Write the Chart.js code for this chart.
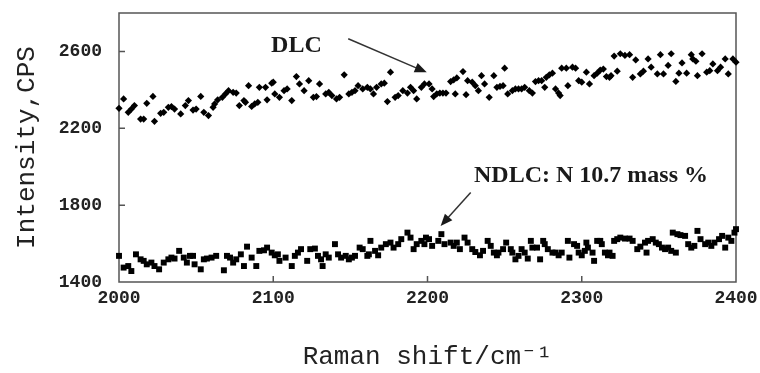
<!DOCTYPE html>
<html lang="en">

<head>
    <meta charset="UTF-8">
    <title>Raman spectra DLC / NDLC</title>
    <script src="https://cdn.jsdelivr.net/npm/chart.js"></script>
    <style>
        html, body { margin: 0; padding: 0; background: #fff; }
        .grafico { width: 760px; height: 373px; }
    </style>
</head>

<body>
    <div class="grafico">
        <canvas id="raman"></canvas>
    </div>
</body>

<script>

    // DLC (diamonds)
    var dlcX = [2000, 2003, 2006, 2008, 2010, 2014, 2016, 2018, 2022, 2023, 2027, 2029, 2032, 2034, 2036, 2040, 2043, 2045, 2048, 2050,
        2053, 2055, 2058, 2061, 2062, 2064, 2067, 2069, 2071, 2074, 2076, 2078, 2081, 2082, 2084, 2086, 2088, 2090, 2091, 2095, 2096, 2099,
        2100, 2101, 2104, 2107, 2109, 2112, 2115, 2117, 2120, 2123, 2126, 2128, 2130, 2134, 2136, 2138, 2141, 2143, 2146, 2149,
        2151, 2153, 2155, 2158, 2161, 2163, 2165, 2167, 2170, 2172, 2174, 2176, 2179, 2181, 2184, 2187, 2189, 2191, 2193, 2196, 2198,
        2201, 2203, 2204, 2206, 2208, 2210, 2212, 2215, 2217, 2218, 2219, 2223, 2225, 2226, 2229, 2231, 2233, 2235, 2237, 2240,
        2243, 2245, 2247, 2249, 2250, 2252, 2255, 2257, 2259, 2261, 2263, 2266, 2268, 2270, 2272, 2274, 2276, 2277, 2279, 2281,
        2283, 2285, 2286, 2287, 2290, 2291, 2294, 2296, 2298, 2300,
        2303, 2305, 2308, 2310, 2312, 2314, 2316, 2318, 2319, 2321, 2323, 2325, 2328, 2331, 2333, 2335, 2338, 2340, 2343, 2345,
        2349, 2351, 2353, 2356, 2358, 2361, 2363, 2365, 2368, 2371, 2372, 2374, 2375, 2378, 2381, 2383, 2385, 2388, 2390, 2393,
        2395, 2398, 2400];
    var dlcY = [2304, 2353, 2283, 2300, 2318, 2248, 2248, 2330, 2366, 2236, 2278, 2283, 2309, 2313, 2300, 2275, 2318, 2344, 2295, 2300,
        2366, 2283, 2266, 2309, 2327, 2348, 2361, 2379, 2396, 2387, 2383, 2318, 2344, 2335, 2422, 2314, 2327, 2335, 2413, 2413, 2348, 2435,
        2440, 2379, 2361, 2396, 2405, 2344, 2469, 2431, 2396, 2448, 2361, 2365, 2431, 2379, 2387, 2370, 2353, 2361, 2478, 2379,
        2387, 2396, 2422, 2405, 2413, 2405, 2379, 2413, 2431, 2435, 2339, 2492, 2361, 2370, 2396, 2383, 2413, 2396, 2353, 2413, 2431,
        2431, 2405, 2365, 2379, 2383, 2383, 2383, 2443, 2452, 2379, 2462, 2495, 2375, 2448, 2440, 2422, 2396, 2474, 2431, 2361,
        2474, 2413, 2418, 2422, 2513, 2379, 2396, 2405, 2405, 2405, 2413, 2396, 2383, 2443, 2448, 2448, 2413, 2465, 2478, 2487,
        2405, 2383, 2370, 2513, 2513, 2422, 2518, 2513, 2448, 2440,
        2492, 2431, 2474, 2487, 2503, 2508, 2469, 2465, 2474, 2576, 2497, 2588, 2579, 2583, 2465, 2556, 2483, 2497, 2561, 2518,
        2483, 2583, 2483, 2527, 2588, 2444, 2487, 2540, 2487, 2583, 2561, 2549, 2474, 2588, 2492, 2500, 2535, 2500, 2518, 2561,
        2483, 2561, 2544];

    // NDLC: N 10.7 mass % (squares)
    var ndlcX = [2000, 2003, 2006, 2008, 2011, 2014, 2016, 2018, 2021, 2023, 2026, 2029, 2032, 2034, 2036, 2039, 2042, 2044, 2046, 2048,
        2049, 2053, 2055, 2057, 2060, 2063, 2068, 2070, 2072, 2074, 2076, 2079, 2081, 2083, 2086, 2089, 2091, 2094, 2096, 2099,
        2101, 2103, 2104, 2108, 2112, 2114, 2116, 2118, 2122, 2124, 2127, 2129, 2131, 2132, 2134, 2136, 2140, 2142, 2144, 2147,
        2149, 2151, 2153, 2156, 2158, 2161, 2162, 2163, 2166, 2168, 2170, 2173, 2176, 2178, 2181, 2183, 2187, 2189, 2191, 2193,
        2196, 2198, 2199,
        2201, 2203, 2207, 2209, 2211, 2215, 2217, 2219, 2221, 2224, 2226, 2229, 2231, 2234, 2236, 2239, 2241, 2243, 2245, 2246,
        2249, 2251, 2254, 2255, 2257, 2259, 2261, 2263, 2265, 2267, 2268, 2271, 2273, 2275, 2276, 2278, 2281, 2283, 2285, 2287,
        2291, 2292, 2295, 2297, 2298, 2300, 2302, 2303, 2304, 2307, 2308, 2310, 2312, 2313, 2315, 2317, 2318, 2320, 2321, 2323,
        2325, 2328, 2331, 2333, 2336, 2338, 2341, 2342, 2343, 2346, 2348, 2350, 2352, 2354, 2356, 2358, 2359, 2361, 2362, 2364,
        2367, 2369, 2371, 2373, 2375, 2377, 2380, 2382, 2384, 2386, 2389, 2391, 2393, 2395, 2397, 2399, 2400];
    var ndlcY = [1536, 1475, 1483, 1457, 1544, 1518, 1510, 1492, 1501, 1483, 1466, 1501, 1518, 1527, 1522, 1562, 1527, 1501, 1536, 1536,
        1492, 1466, 1518, 1522, 1527, 1536, 1461, 1536, 1527, 1501, 1518, 1544, 1483, 1584, 1527, 1483, 1562, 1565, 1579, 1553,
        1539, 1544, 1510, 1527, 1483, 1536, 1553, 1571, 1510, 1571, 1574, 1536, 1518, 1483, 1544, 1527, 1597, 1544, 1527, 1536,
        1518, 1527, 1536, 1579, 1571, 1536, 1544, 1614, 1562, 1539, 1579, 1597, 1605, 1579, 1597, 1623, 1657, 1631, 1571, 1597,
        1614, 1597, 1631,
        1623, 1588, 1614, 1649, 1597, 1605, 1588, 1605, 1571, 1631, 1605, 1571, 1556, 1539, 1562, 1614, 1588, 1553, 1539, 1553,
        1571, 1605, 1571, 1553, 1518, 1536, 1571, 1553, 1522, 1614, 1579, 1579, 1518, 1614, 1597, 1571, 1553, 1553, 1539, 1553,
        1614, 1527, 1597, 1588, 1553, 1539, 1562, 1605, 1579, 1553, 1510, 1614, 1614, 1597, 1553, 1539, 1553, 1536, 1614, 1623,
        1631, 1626, 1626, 1614, 1571, 1584, 1605, 1553, 1614, 1623, 1605, 1597, 1579, 1571, 1579, 1562, 1657, 1553, 1649, 1644,
        1640, 1597, 1579, 1588, 1666, 1623, 1597, 1605, 1588, 1605, 1623, 1640, 1579, 1631, 1614, 1657, 1675];

    var xTicks = [2000, 2100, 2200, 2300, 2400];
    var yTicks = [1400, 1800, 2200, 2600];

    function pontos(xs, ys) {
        var lista = [];
        for (var i = 0; i < xs.length; i++) {
            lista.push({ x: xs[i], y: ys[i] });
        }
        return lista;
    }

    // frame + inward tick marks (the chart has a closed box)
    var moldura = {
        id: 'moldura',
        beforeDatasetsDraw: function (chart) {
            var ctx = chart.ctx;
            var a = chart.chartArea;
            var sx = chart.scales.x;
            var sy = chart.scales.y;
            ctx.save();
            ctx.strokeStyle = '#555';
            ctx.lineWidth = 1.5;
            ctx.strokeRect(a.left, a.top, a.right - a.left, a.bottom - a.top);
            ctx.beginPath();
            for (var i = 1; i < xTicks.length - 1; i++) {
                var px = sx.getPixelForValue(xTicks[i]);
                ctx.moveTo(px, a.bottom);
                ctx.lineTo(px, a.bottom - 6);
            }
            for (var j = 1; j < yTicks.length; j++) {
                var py = sy.getPixelForValue(yTicks[j]);
                ctx.moveTo(a.left, py);
                ctx.lineTo(a.left + 6, py);
            }
            ctx.stroke();
            ctx.restore();
        }
    };

    // labels with arrows, placed in data units
    var rotulos = [
        { texto: 'DLC', tx: 2115, ty: 2631, de: [2148.6, 2666], para: [2199.5, 2491] },
        { texto: 'NDLC: N 10.7 mass %', tx: 2306, ty: 1953, de: [2228, 1866], para: [2208.5, 1692] }
    ];

    var anotacoes = {
        id: 'anotacoes',
        afterDatasetsDraw: function (chart) {
            var ctx = chart.ctx;
            var sx = chart.scales.x;
            var sy = chart.scales.y;
            ctx.save();
            ctx.fillStyle = '#1a1a1a';
            ctx.strokeStyle = '#333';
            ctx.lineWidth = 1.5;
            ctx.font = 'bold 24px "Liberation Serif", "Times New Roman", serif';
            ctx.textAlign = 'center';
            ctx.textBaseline = 'middle';
            rotulos.forEach(function (r) {
                ctx.fillText(r.texto, sx.getPixelForValue(r.tx), sy.getPixelForValue(r.ty));

                var x1 = sx.getPixelForValue(r.de[0]), y1 = sy.getPixelForValue(r.de[1]);
                var x2 = sx.getPixelForValue(r.para[0]), y2 = sy.getPixelForValue(r.para[1]);
                var ang = Math.atan2(y2 - y1, x2 - x1);
                var cab = 12;
                ctx.beginPath();
                ctx.moveTo(x1, y1);
                ctx.lineTo(x2 - Math.cos(ang) * cab * 0.8, y2 - Math.sin(ang) * cab * 0.8);
                ctx.stroke();
                ctx.beginPath();
                ctx.moveTo(x2, y2);
                ctx.lineTo(x2 - cab * Math.cos(ang) + 5 * Math.sin(ang), y2 - cab * Math.sin(ang) - 5 * Math.cos(ang));
                ctx.lineTo(x2 - cab * Math.cos(ang) - 5 * Math.sin(ang), y2 - cab * Math.sin(ang) + 5 * Math.cos(ang));
                ctx.closePath();
                ctx.fill();
            });
            ctx.restore();
        }
    };

    var fonteTick = { family: '"Liberation Mono", "Courier New", monospace', size: 18, weight: 'bold' };
    var fonteTitulo = { family: '"Liberation Mono", "Courier New", "DejaVu Sans Mono", monospace', size: 26 };

    function semVirgula(v) {
        return String(v);
    }

    var ctx = document.getElementById('raman').getContext('2d');
    var myChart = new Chart(ctx, {
        type: 'scatter',
        data: {
            datasets: [{
                label: 'DLC',
                data: pontos(dlcX, dlcY),
                pointStyle: 'rectRot',
                pointRadius: 3.6,
                backgroundColor: '#000',
                borderWidth: 0,
                clip: false
            }, {
                label: 'NDLC: N 10.7 mass %',
                data: pontos(ndlcX, ndlcY),
                pointStyle: 'rect',
                pointRadius: 4.2,
                backgroundColor: '#000',
                borderWidth: 0,
                clip: false
            }]
        },
        options: {
            responsive: true,
            maintainAspectRatio: false,
            animation: false,
            layout: {
                padding: { top: 13, right: 24, left: 0, bottom: 0 }
            },
            plugins: {
                legend: { display: false },
                tooltip: { enabled: false }
            },
            scales: {
                x: {
                    type: 'linear',
                    min: 2000,
                    max: 2400,
                    afterBuildTicks: function (s) { s.ticks = xTicks.map(function (v) { return { value: v }; }); },
                    afterFit: function (s) {
                        s.height = 91;
                        s.paddingLeft = 0;
                        s.paddingRight = 0;
                    },
                    grid: { display: false, drawTicks: false },
                    border: { display: false },
                    ticks: { padding: 6, maxRotation: 0, autoSkip: false, color: '#222', font: fonteTick, callback: semVirgula },
                    title: {
                        display: true,
                        text: 'Raman shift/cm\u207B\u00B9',
                        color: '#222',
                        font: fonteTitulo,
                        padding: { top: 0, bottom: 0 }
                    }
                },
                y: {
                    min: 1400,
                    max: 2800,
                    afterBuildTicks: function (s) { s.ticks = yTicks.map(function (v) { return { value: v }; }); },
                    afterFit: function (s) {
                        s.width = 119;
                        s.paddingTop = 0;
                        s.paddingBottom = 0;
                    },
                    grid: { display: false, drawTicks: false },
                    border: { display: false },
                    ticks: { padding: 17, color: '#222', font: fonteTick, callback: semVirgula },
                    title: {
                        display: true,
                        text: 'Intensity,CPS',
                        color: '#222',
                        font: fonteTitulo,
                        padding: { top: 12, bottom: 0 }
                    }
                }
            }
        },
        plugins: [moldura, anotacoes]
    });

</script>

</html>
